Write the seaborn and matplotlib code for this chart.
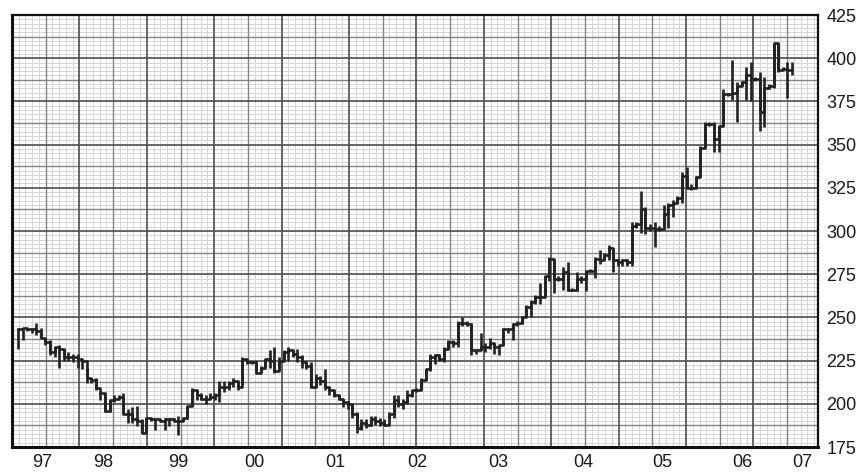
import numpy as np
import pandas as pd
import seaborn as sns
import matplotlib.pyplot as plt

# bar-chart values (one bar per entry, oldest first)
close = [
    243, 244, 243, 243, 242, 238, 236, 230, 233, 232,
    227, 227, 227, 226, 225, 215, 214, 209, 206, 196,
    202, 203, 204, 194, 194, 191, 190, 183, 192, 191,
    191, 190, 191, 191, 190, 190, 192, 199, 208, 205,
    203, 203, 204, 205, 210, 210, 212, 213, 210, 226,
    224, 224, 218, 221, 226, 225, 219, 225, 230, 231,
    229, 227, 224, 222, 210, 215, 213, 210, 208, 205,
    203, 201, 200, 194, 186, 189, 188, 191, 190, 189,
    188, 194, 202, 200, 201, 205, 208, 208, 214, 220,
    227, 228, 226, 232, 236, 235, 247, 247, 246, 231,
    231, 233, 233, 235, 233, 234, 243, 243, 246, 247,
    250, 256, 259, 262, 262, 274, 284, 272, 272, 276,
    266, 266, 272, 272, 277, 277, 284, 283, 286, 290,
    283, 282, 283, 282, 303, 304, 313, 302, 302, 301,
    301, 310, 315, 316, 319, 332, 325, 325, 331, 348,
    362, 362, 353, 361, 379, 379, 380, 384, 386, 390,
    388, 388, 369, 383, 384, 409, 393, 394, 393, 393,
]
high = [
    244, 244, 244, 244, 247, 244, 238, 237, 233, 234,
    232, 230, 229, 229, 226, 221, 215, 215, 207, 206,
    202, 205, 205, 206, 197, 198, 199, 191, 192, 192,
    192, 191, 192, 192, 192, 193, 192, 199, 209, 208,
    206, 205, 206, 206, 213, 213, 213, 215, 213, 227,
    225, 225, 225, 222, 226, 231, 233, 227, 231, 233,
    231, 232, 228, 225, 224, 217, 216, 220, 210, 208,
    205, 203, 201, 200, 195, 191, 191, 193, 193, 192,
    191, 195, 205, 205, 203, 208, 208, 209, 215, 220,
    229, 229, 229, 233, 237, 237, 248, 250, 248, 247,
    232, 241, 235, 238, 235, 234, 244, 244, 247, 248,
    250, 257, 260, 263, 270, 274, 285, 284, 274, 279,
    282, 267, 276, 274, 277, 278, 285, 289, 287, 292,
    290, 284, 284, 284, 305, 305, 323, 314, 304, 305,
    303, 315, 316, 318, 320, 334, 337, 327, 332, 349,
    363, 363, 363, 361, 382, 380, 399, 386, 387, 395,
    398, 389, 392, 389, 385, 409, 409, 395, 398, 398,
]
low = [
    232, 237, 242, 241, 240, 238, 234, 228, 227, 221,
    225, 225, 224, 221, 220, 212, 212, 208, 202, 195,
    195, 201, 203, 194, 189, 189, 187, 183, 183, 190,
    185, 190, 185, 187, 190, 182, 190, 191, 199, 202,
    202, 200, 203, 202, 201, 207, 208, 210, 208, 211,
    223, 223, 218, 219, 221, 221, 218, 220, 225, 225,
    227, 224, 221, 220, 209, 210, 211, 208, 205, 204,
    202, 198, 197, 192, 183, 185, 186, 187, 188, 187,
    187, 192, 192, 198, 197, 200, 204, 207, 208, 214,
    219, 223, 225, 224, 232, 233, 233, 245, 245, 228,
    229, 231, 230, 232, 229, 228, 234, 241, 237, 245,
    246, 250, 250, 258, 258, 262, 271, 264, 271, 266,
    265, 265, 265, 270, 265, 276, 273, 281, 283, 283,
    276, 280, 280, 280, 280, 302, 299, 298, 300, 291,
    300, 301, 302, 308, 316, 316, 325, 324, 325, 331,
    348, 361, 346, 346, 361, 378, 376, 363, 384, 376,
    375, 387, 358, 360, 382, 383, 392, 393, 377, 390,
]

year_labels = ['97', '98', '99', '00', '01', '02', '03', '04', '05', '06', '07']
year_pos = [5.2, 18.6, 34.9, 51.7, 69.2, 87.1, 104.8, 123.4, 140.8, 158.1, 171.2]
price_ticks = list(range(175, 426, 25))

sns.set_style("white")
plt.rcParams['font.family'] = ['Liberation Sans', 'DejaVu Sans']

df = pd.DataFrame({'bar': np.arange(len(close)), 'close': close,
                   'high': high, 'low': low})

fig = plt.figure(figsize=(8.65, 4.74), dpi=100)
ax = fig.add_axes([12 / 865, 27 / 474, 806 / 865, 432 / 474])

x0, x1 = -1.31, 174.7
y0, y1 = 175, 425
ax.set_xlim(x0, x1)
ax.set_ylim(y0, y1)

# graph paper grid
major_dx = 14.72
for x in np.arange(x0, x1 + 0.1, major_dx / 10):
    ax.axvline(x, color='#d6d6d6', lw=0.7, zorder=0)
for y in np.arange(y0, y1 + 0.1, 2.5):
    ax.axhline(y, color='#d6d6d6', lw=0.7, zorder=0)
for x in np.arange(x0 + major_dx / 2, x1, major_dx):
    ax.axvline(x, color='#858585', lw=1.0, zorder=1)
for y in np.arange(y0 + 12.5, y1, 25):
    ax.axhline(y, color='#858585', lw=1.0, zorder=1)
for x in np.arange(x0, x1, major_dx):
    ax.axvline(x, color='#505050', lw=1.2, zorder=1)
for y in price_ticks:
    ax.axhline(y, color='#505050', lw=1.2, zorder=1)

# price bars: high-low range plus stepped closes
ax.vlines(df['bar'], df['low'], df['high'], color='#222222', lw=1.9, zorder=3)
sns.lineplot(data=df, x='bar', y='close', drawstyle='steps-post',
             color='#222222', lw=1.9, ax=ax, zorder=3)

ax.set_xlabel('')
ax.set_ylabel('')
ax.set_xticks(year_pos)
ax.set_xticklabels(year_labels)
ax.yaxis.tick_right()
ax.set_yticks(price_ticks)
ax.tick_params(axis='both', length=0, labelsize=13, colors='#1a1a1a')
ax.tick_params(axis='x', pad=5)
ax.tick_params(axis='y', pad=6)

for side in ['left', 'bottom']:
    ax.spines[side].set_linewidth(2.2)
for side in ['top', 'right']:
    ax.spines[side].set_linewidth(1.6)
for s in ax.spines.values():
    s.set_color('#111111')
    s.set_zorder(5)

fig.savefig('out.png', dpi=100)
